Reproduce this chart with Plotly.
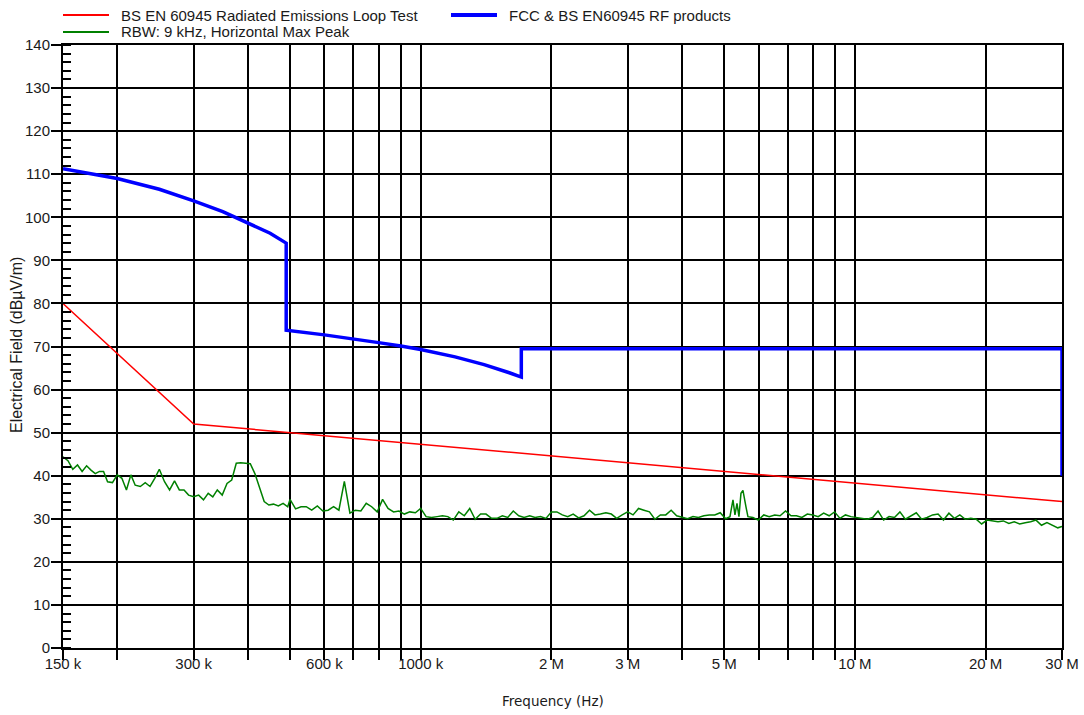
import plotly.graph_objects as go

# ---------------- data ----------------
# Red limit: BS EN 60945 Radiated Emissions Loop Test (Hz, dBuV/m)
red_freq = [150e3, 300e3, 30e6]
red_level = [80.0, 52.0, 34.0]

# Blue limit: FCC & BS EN60945 RF products (Hz, dBuV/m)
blue_freq = [150e3, 200e3, 250e3, 300e3, 350e3, 400e3, 450e3, 490e3, 490e3,
             600e3, 700e3, 800e3, 900e3, 1000e3, 1200e3, 1400e3, 1600e3, 1705e3,
             1705e3, 30e6, 30e6]
blue_level = [111.3, 109.0, 106.5, 103.8, 101.3, 98.6, 96.3, 94.0, 73.8,
              72.7, 71.8, 70.9, 70.1, 69.3, 67.6, 65.8, 63.9, 62.9,
              69.5, 69.5, 40.0]

# Green measurement: RBW 9 kHz, Horizontal Max Peak (kHz, dBuV/m)
green_khz = [
    150, 154, 158, 162, 166, 170, 174, 178, 182, 186, 190, 195, 200, 205, 210,
    215, 220, 226, 232, 238, 244, 250, 257, 264, 271, 278, 285, 292, 300, 308,
    316, 324, 332, 340, 349, 358, 367, 376, 385, 395, 405, 415, 425, 436, 447,
    458, 470, 482, 494,
    500, 515, 530, 545, 561, 578, 595, 612, 630, 648, 667, 687, 707, 728, 749,
    771, 794, 817, 841, 866, 891, 917, 944, 972,
    1000, 1029, 1059, 1091, 1122, 1155, 1189, 1224, 1260, 1297, 1335, 1374,
    1414, 1456, 1498, 1542, 1587, 1634, 1682, 1731, 1782, 1834, 1888, 1943,
    2000, 2059, 2119, 2181, 2245, 2311, 2378, 2448, 2520, 2594, 2670, 2748,
    2828, 2911, 2997, 3084, 3175, 3268, 3364, 3462, 3564, 3668, 3775, 3886,
    4000, 4117, 4238, 4362, 4490, 4622, 4757, 4896, 5040, 5156, 5239, 5295,
    5352, 5408, 5466, 5524, 5612, 5672, 5823, 5993, 6169, 6350, 6536, 6727,
    6924, 7127, 7336, 7551, 7772,
    8000, 8234, 8476, 8724, 8980, 9243, 9514, 9793, 10080, 10370, 10680, 10990,
    11310, 11650, 11990, 12340, 12700, 13070, 13450, 13850, 14250, 14670,
    15100, 15550,
    16000, 16470, 16950, 17450, 17960, 18490, 19030, 19590, 20160, 20750,
    21360, 21980, 22630, 23290, 23970, 24680, 25400, 26140, 26910, 27700,
    28510, 29340, 30000]
green_level = [
    44.4, 43.5, 41.5, 42.5, 41.0, 42.3, 41.3, 40.5, 41.0, 41.0, 38.6, 38.4,
    40.2, 39.4, 36.7, 40.2, 37.8, 37.5, 38.4, 37.5, 39.4, 41.5, 38.6, 36.7,
    38.8, 36.7, 36.7, 35.5, 35.1, 35.5, 34.4, 35.9, 35.1, 36.7, 35.5, 38.2,
    39.0, 42.9, 43.0, 42.9, 42.8, 40.5, 37.5, 34.0, 33.2, 33.4, 33.0, 33.6,
    32.8,
    34.5, 32.3, 32.8, 32.8, 32.0, 33.0, 31.8, 32.0, 32.8, 32.0, 38.7, 31.3,
    32.0, 31.8, 33.6, 32.8, 31.6, 34.5, 32.4, 31.6, 31.8, 31.1, 31.6, 31.4,
    32.4, 30.5, 30.3, 30.5, 30.7, 30.5, 29.7, 31.6, 30.7, 32.4, 29.9, 31.1,
    31.1, 30.1, 30.1, 30.7, 30.3, 31.8, 30.7, 30.3, 30.7, 30.3, 30.5, 30.1,
    31.6, 31.6, 30.9, 30.5, 31.1, 30.2, 30.7, 32.0, 30.9, 31.1, 31.4, 31.1,
    30.1, 30.9, 31.6, 30.9, 32.4, 32.0, 31.6, 29.9, 30.9, 30.9, 32.0, 30.7,
    30.3, 30.0, 30.5, 30.3, 30.7, 30.9, 30.9, 31.4, 30.0, 30.5, 34.4, 30.9,
    33.6, 30.5, 35.9, 36.6, 32.8, 30.5, 30.3, 29.7, 30.9, 30.5, 30.9, 30.7,
    31.8, 30.7, 30.7, 30.3, 31.1,
    30.9, 30.5, 31.3, 30.7, 31.6, 30.1, 30.9, 30.5, 30.3, 30.1, 29.9, 30.3,
    31.8, 29.7, 30.5, 30.3, 31.6, 29.9, 30.7, 31.4, 29.9, 30.3, 30.9, 31.1,
    29.7, 31.3, 30.1, 30.9, 29.9, 30.1, 29.9, 28.8, 29.7, 29.5, 29.3, 29.5,
    28.9, 29.3, 28.8, 29.1, 29.3, 29.7, 28.5, 29.1, 28.5, 27.9, 28.2]

green_freq = [k * 1e3 for k in green_khz]

# axis ticks
x_tickvals = [150e3, 200e3, 300e3, 400e3, 500e3, 600e3, 700e3, 800e3, 900e3,
              1e6, 2e6, 3e6, 4e6, 5e6, 6e6, 7e6, 8e6, 9e6, 10e6, 20e6, 30e6]
x_ticktext = ["150 k", "", "300 k", "", "", "600 k", "", "", "", "1000 k",
              "2 M", "3 M", "", "5 M", "", "", "", "", "10 M", "20 M", "30 M"]

series_names = ["BS EN 60945 Radiated Emissions Loop Test",
                "FCC & BS EN60945 RF products",
                "RBW: 9 kHz, Horizontal Max Peak"]
series_colors = ["#ff0000", "#0000ff", "#008000"]
series_widths = [1.5, 3.5, 1.5]

# ---------------- figure ----------------
W, H = 1084, 715
ML, MR, MT, MB = 63, 22, 45, 67
PW, PH = W - ML - MR, H - MT - MB

def px_x(px):
    return (px - ML) / PW

def px_y(py):
    return (H - MB - py) / PH

fig = go.Figure()
for f, lv, nm, c, w in zip([red_freq, blue_freq, green_freq],
                           [red_level, blue_level, green_level],
                           series_names, series_colors, series_widths):
    fig.add_trace(go.Scatter(x=f, y=lv, mode="lines", name=nm,
                             line=dict(color=c, width=w), showlegend=False))

font_main = "Liberation Sans, Arial, sans-serif"
txt_col = "#1a1a1a"

# manual legend (line sample + label)
legend_pos = [(63, 15), (451, 15), (63, 32)]
shapes = []
annotations = []
for (lx, ly), nm, c, w in zip(legend_pos, series_names, series_colors, series_widths):
    shapes.append(dict(type="line", xref="paper", yref="paper",
                       x0=px_x(lx), x1=px_x(lx + 46), y0=px_y(ly), y1=px_y(ly),
                       line=dict(color=c, width=w + 0.5)))
    annotations.append(dict(xref="paper", yref="paper", x=px_x(lx + 56), y=px_y(ly),
                            xanchor="left", yanchor="middle", showarrow=False,
                            text=nm, font=dict(family=font_main, size=15, color=txt_col)))

# axis titles
annotations.append(dict(xref="paper", yref="paper", x=px_x(553), y=px_y(701),
                        xanchor="center", yanchor="middle", showarrow=False,
                        text="Frequency (Hz)",
                        font=dict(family="DejaVu Sans, Verdana, sans-serif", size=13.5, color=txt_col)))
annotations.append(dict(xref="paper", yref="paper", x=px_x(16), y=px_y(345),
                        xanchor="center", yanchor="middle", showarrow=False, textangle=-90,
                        text="Electrical Field (dBµV/m)",
                        font=dict(family=font_main, size=16, color=txt_col)))

fig.update_layout(
    width=W, height=H,
    margin=dict(l=ML, r=MR, t=MT, b=MB),
    paper_bgcolor="white", plot_bgcolor="white",
    font=dict(family=font_main, size=14, color=txt_col),
    showlegend=False,
    shapes=shapes, annotations=annotations,
)

fig.update_xaxes(
    type="log", automargin=False,
    range=[5.176091259, 7.477121255],
    tickvals=x_tickvals, ticktext=x_ticktext,
    ticks="outside", ticklen=10, tickwidth=2, tickcolor="black",
    ticklabelstandoff=-9,
    showgrid=True, gridcolor="black", gridwidth=2,
    showline=True, linecolor="black", linewidth=2, mirror=True,
    tickfont=dict(family=font_main, size=15, color=txt_col),
    zeroline=False,
)
fig.update_yaxes(
    range=[0, 140], dtick=10, tick0=0, automargin=False,
    ticks="outside", ticklen=10, tickwidth=2, tickcolor="black",
    ticklabelstandoff=-2,
    minor=dict(dtick=2, ticks="inside", ticklen=8, tickwidth=2, tickcolor="black", showgrid=False),
    showgrid=True, gridcolor="black", gridwidth=2,
    showline=True, linecolor="black", linewidth=2, mirror=True,
    tickfont=dict(family=font_main, size=15, color=txt_col),
    zeroline=False,
)

fig.write_html("out.html")
